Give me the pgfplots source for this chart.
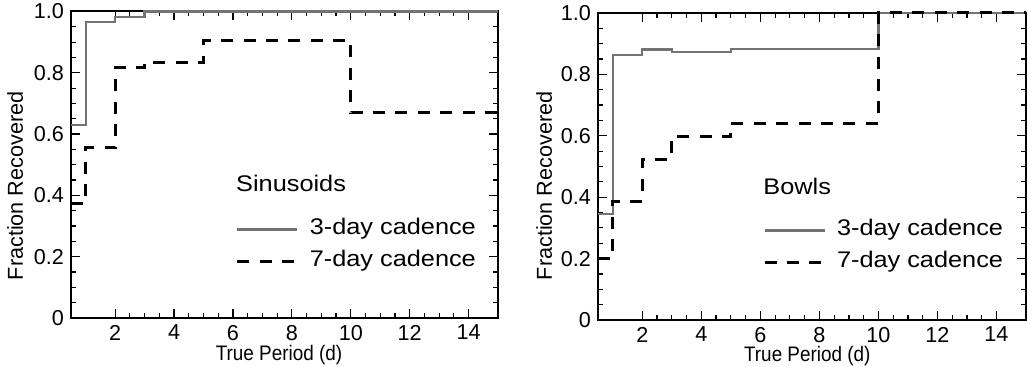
\documentclass[border=0pt]{standalone}
\usepackage{pgfplots}
\pgfplotsset{compat=1.18}
\usepackage{fontspec}
\setmainfont{Liberation Sans}
\newfontfamily\legfont[FakeStretch=1.12]{Liberation Sans}
\newfontfamily\xlabfont[FakeStretch=0.9]{Liberation Sans}
\definecolor{gray3}{RGB}{115,115,115}
\pgfplotsset{
  myaxis/.style={
    scale only axis,
    xmin=0.5, xmax=15, ymin=0, ymax=1,
    xtick={2,4,6,8,10,12,14},
    xticklabels={2,4,6,8,10,12,14},
    ytick={0,0.2,0.4,0.6,0.8,1.0},
    yticklabels={\raisebox{-1.5pt}{0},0.2,0.4,0.6,0.8,\raisebox{-4pt}{1.0}},
    minor x tick num=3, minor y tick num=3,
    tick align=inside,
    major tick length=4.5pt, minor tick length=2.5pt,
    tick style={black, line width=0.6pt},
    axis line style={black, line width=1pt},
    tick label style={font=\fontsize{10.8}{12}\selectfont},
    /pgf/number format/assume math mode=true,
    clip=false,
    ylabel={Fraction Recovered},
    xlabel={True Period (d)},
    ylabel style={font=\fontsize{10.8}{12}\selectfont, rotate=0, anchor=center},
    xlabel style={font=\xlabfont\fontsize{10.5}{12}\selectfont, anchor=north, inner sep=0pt},
    legend image code/.code={\draw[##1] (0pt,0pt) -- (30pt,0pt);},
    legend cell align=left,
    legend style={draw=none, fill=none, anchor=north west, inner sep=0pt, outer sep=0pt,
      font=\legfont\fontsize{11.3}{13}\selectfont,
      row sep=5.35pt,
      nodes={inner sep=0pt, text height=8pt, text depth=2.5pt},
      /tikz/every odd column/.append style={column sep=5.5pt}},
  },
  three/.style={const plot, color=gray3, line width=1.2pt},
  seven/.style={const plot, color=black, line width=1.5pt, dash pattern=on 6pt off 5.2pt},
}
\begin{document}
\begin{tikzpicture}
\path[use as bounding box] (0pt,0pt) rectangle (513.5pt,183.5pt);
\begin{axis}[myaxis, at={(35.5pt,24.5pt)}, anchor=south west,
  width=213.5pt, height=153.25pt,
  every axis y label/.append style={at={(axis description cs:-0.131,0.431)}},
  every axis x label/.append style={at={(axis description cs:0.487,-0.088)}},
  legend style={at={(rel axis cs:0.386,0.323)}}]
\addplot[three] coordinates {(0.5,0.63) (1,0.966) (2,0.983) (3,1.0) (15,1.0)};
\addlegendentry{3-day cadence}
\addplot[seven] coordinates {(0.5,0.372) (1,0.555) (2,0.818) (3,0.834) (5,0.905) (10,0.669) (15,0.669)};
\addlegendentry{7-day cadence}
\node[anchor=base west, inner sep=0pt, font=\legfont\fontsize{11.3}{13}\selectfont] at (rel axis cs:0.386,0.412) {Sinusoids};
\end{axis}
\begin{axis}[myaxis, at={(299pt,23.5pt)}, anchor=south west,
  width=214pt, height=153.5pt,
  every axis y label/.append style={at={(axis description cs:-0.126,0.437)}},
  every axis x label/.append style={at={(axis description cs:0.489,-0.085)}},
  legend style={at={(rel axis cs:0.3855,0.326)}}]
\addplot[three] coordinates {(0.5,0.345) (1,0.863) (2,0.881) (3,0.872) (5,0.883) (10,1.0) (15,1.0)};
\addlegendentry{3-day cadence}
\addplot[seven] coordinates {(0.5,0.2) (1,0.387) (2,0.524) (3,0.598) (5,0.641) (10,1.0) (15,1.0)};
\addlegendentry{7-day cadence}
\node[anchor=base west, inner sep=0pt, font=\legfont\fontsize{11.3}{13}\selectfont] at (rel axis cs:0.3855,0.41) {Bowls};
\end{axis}
\end{tikzpicture}
\end{document}
